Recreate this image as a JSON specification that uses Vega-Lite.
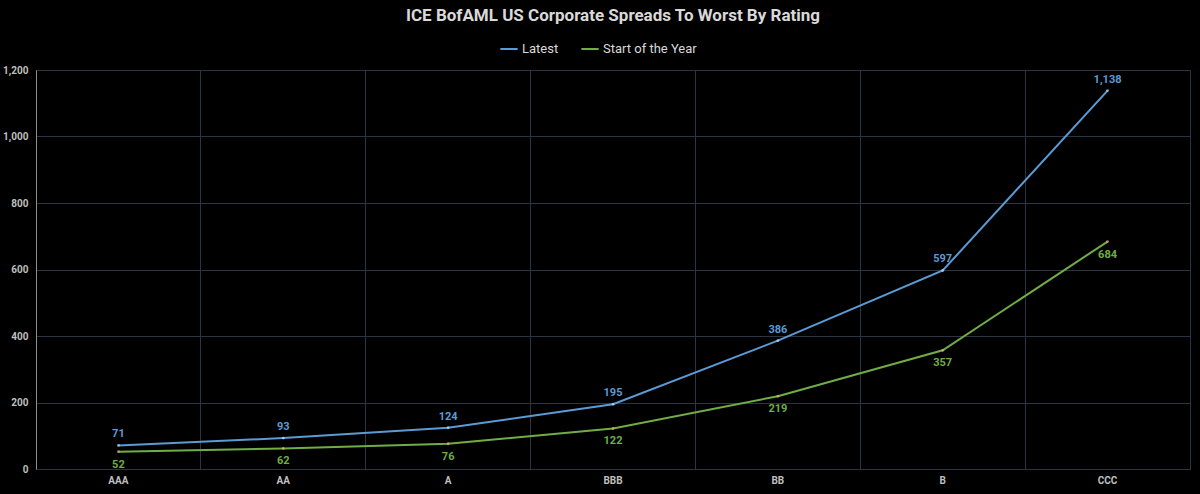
{
  "$schema": "https://vega.github.io/schema/vega-lite/v6.json",
  "autosize": "none",
  "width": 1154,
  "height": 399,
  "padding": {"left": 36, "top": 70, "right": 10, "bottom": 25},
  "background": "#000000",
  "title": {
    "text": "ICE BofAML US Corporate Spreads To Worst By Rating",
    "color": "#d9d9d9",
    "font": "Roboto",
    "fontSize": 17,
    "fontWeight": "bold",
    "anchor": "middle",
    "offset": 14
  },
  "config": {
    "view": {"stroke": "#2b3442", "strokeWidth": 1},
    "font": "Roboto",
    "axis": {"labelFont": "Roboto", "labelColor": "#bfbfbf", "labelFontSize": 10, "labelFontWeight": "bold"}
  },
  "data": {
    "values": [
      {"rating": "AAA", "series": "Latest", "value": 71},
      {"rating": "AA", "series": "Latest", "value": 93},
      {"rating": "A", "series": "Latest", "value": 124},
      {"rating": "BBB", "series": "Latest", "value": 195},
      {"rating": "BB", "series": "Latest", "value": 386},
      {"rating": "B", "series": "Latest", "value": 597},
      {"rating": "CCC", "series": "Latest", "value": 1138},
      {"rating": "AAA", "series": "Start of the Year", "value": 52},
      {"rating": "AA", "series": "Start of the Year", "value": 62},
      {"rating": "A", "series": "Start of the Year", "value": 76},
      {"rating": "BBB", "series": "Start of the Year", "value": 122},
      {"rating": "BB", "series": "Start of the Year", "value": 219},
      {"rating": "B", "series": "Start of the Year", "value": 357},
      {"rating": "CCC", "series": "Start of the Year", "value": 684}
    ]
  },
  "encoding": {
    "x": {"field": "rating", "type": "nominal", "sort": null, "axis": null, "scale": {"type": "band", "paddingInner": 0, "paddingOuter": 0}},
    "y": {"field": "value", "type": "quantitative", "scale": {"domain": [0, 1200]}}
  },
  "layer": [
    {
      "mark": {"type": "line", "strokeWidth": 2},
      "encoding": {
        "x": {"field": "rating", "type": "nominal", "sort": null, "axis": {"orient": "bottom", "title": null, "grid": true, "gridColor": "#2b3442", "bandPosition": 0, "labels": false, "ticks": false, "domain": false}},
        "y": {"field": "value", "type": "quantitative", "axis": {"title": null, "values": [0, 200, 400, 600, 800, 1000, 1200], "format": ",d", "gridColor": "#2b3442", "domainColor": "#8c8c8c", "ticks": false, "labelPadding": 8}},
        "color": {
          "field": "series", "type": "nominal",
          "scale": {"domain": ["Latest", "Start of the Year"], "range": ["#5b9bd5", "#70ad47"]},
          "legend": {"title": null, "orient": "none", "legendX": 463, "legendY": -31, "direction": "horizontal", "symbolType": "stroke", "symbolStrokeWidth": 2, "symbolSize": 300, "labelColor": "#d9d9d9", "labelFontSize": 13, "labelFont": "Roboto", "columnPadding": 18, "labelOffset": 3}
        }
      }
    },
    {
      "mark": {"type": "point", "filled": true, "size": 8},
      "encoding": {
        "color": {"field": "series", "type": "nominal", "scale": {"domain": ["Latest", "Start of the Year"], "range": ["#c9ddf0", "#f4b183"]}, "legend": null}
      }
    },
    {
      "transform": [{"filter": "datum.series == 'Latest'"}],
      "mark": {"type": "text", "dy": -11, "fontSize": 11, "fontWeight": "bold", "color": "#5b9bd5"},
      "encoding": {"text": {"field": "value", "type": "quantitative", "format": ","}}
    },
    {
      "transform": [{"filter": "datum.series == 'Start of the Year'"}],
      "mark": {"type": "text", "dy": 13, "fontSize": 11, "fontWeight": "bold", "color": "#70ad47"},
      "encoding": {"text": {"field": "value", "type": "quantitative", "format": ","}}
    },
    {
      "mark": {"type": "point", "opacity": 0},
      "encoding": {
        "x": {"field": "rating", "type": "nominal", "sort": null, "axis": {"orient": "bottom", "title": null, "grid": false, "ticks": false, "domain": false, "labelAngle": 0, "labelPadding": 6}}
      }
    }
  ],
  "resolve": {"scale": {"color": "independent"}, "axis": {"x": "independent"}}
}
